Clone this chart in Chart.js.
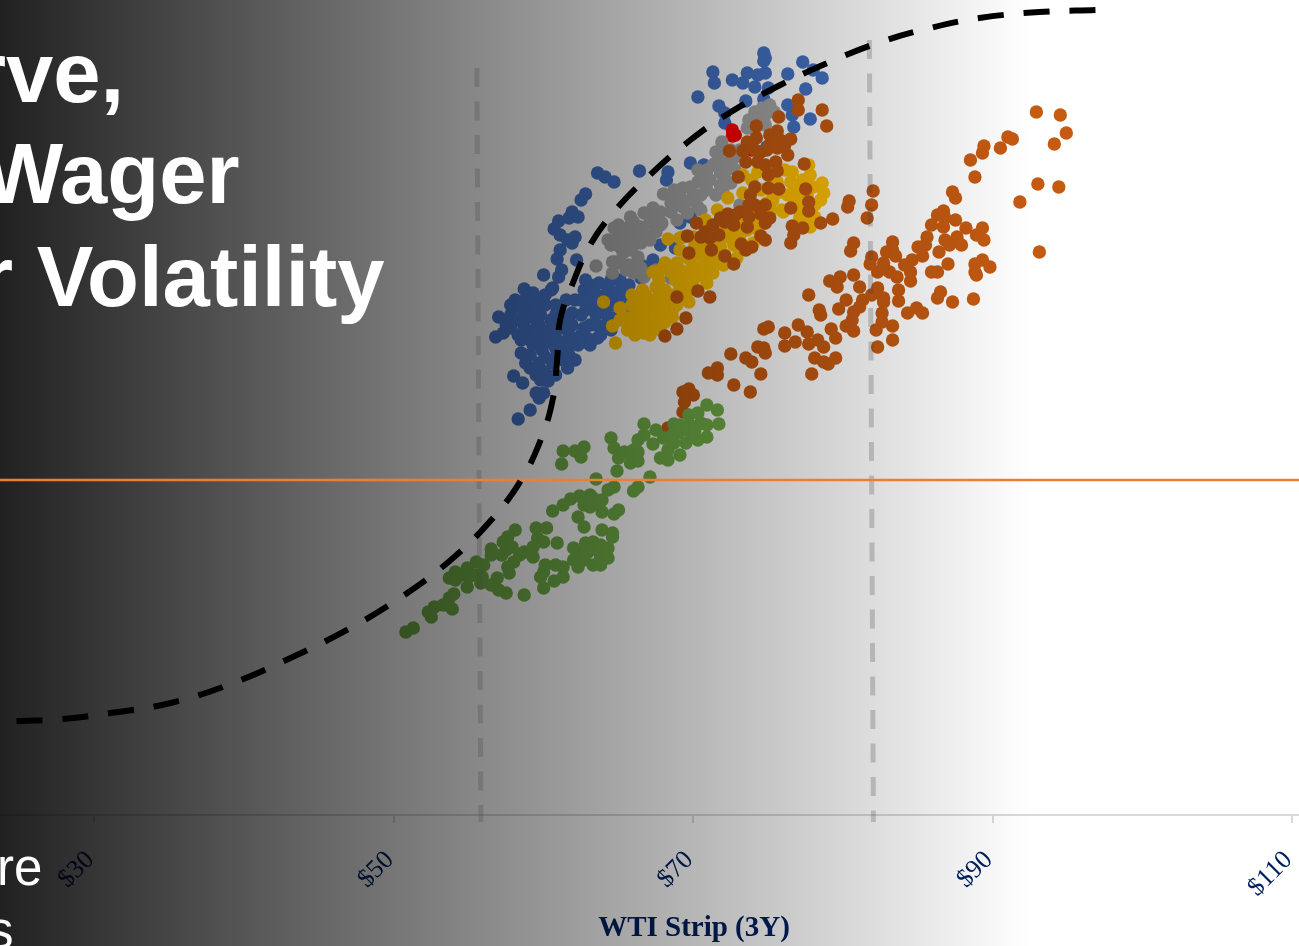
<!DOCTYPE html>
<html>
<head>
<meta charset="utf-8">
<title>WTI Strip</title>
<script src="https://cdn.jsdelivr.net/npm/chart.js@4"></script>
<style>
    html, body { margin: 0; padding: 0; background: #fff; overflow: hidden; width: 1299px; height: 946px; }
    #wrap { position: relative; width: 1299px; height: 946px; overflow: hidden; }
    canvas { position: absolute; left: 0; top: 0; }
    .head { position: absolute; color: #fff; white-space: pre; font-family: "Liberation Sans", Arial, sans-serif; }
    .big { font-size: 85px; font-weight: bold; line-height: 95px; }
    .small { font-size: 51px; line-height: 57px; }
</style>
</head>
<body>
<div id="wrap">
    <canvas id="chart" width="1388" height="946"></canvas>
    <div class="head big" style="left:-27px;top:25px">rve,</div>
    <div class="head big" style="left:-17px;top:126px">Wager</div>
    <div class="head big" style="left:-20px;top:229px">r Volatility</div>
    <div class="head small" style="left:-3px;top:839px">re</div>
    <div class="head small" style="left:-12px;top:902px">s</div>
</div>
<script>
// x = WTI strip ($), y = read on a hidden axis (no labels in the picture)
const tickValues = [30, 50, 70, 90, 110];
const axisTitle = 'WTI Strip (3Y)';

const bluePoints = [[74.7,76.2],[74.8,75.7],[74.7,75.4],[77.3,75.3],[71.3,74.3],[71.4,73.2],[72.6,73.5],[73.3,73.2],[73.6,74.2],[74.3,74.0],[74.8,74.2],[74.1,72.8],[75.0,72.7],[76.3,74.1],[78.0,74.5],[78.6,73.7],[77.5,72.6],[70.3,71.8],[73.5,71.4],[71.7,70.9],[72.1,70.2],[72.1,69.2],[74.7,71.6],[76.3,71.0],[76.6,70.0],[77.8,69.6],[76.7,68.8],[74.9,66.8],[69.8,65.2],[70.7,65.0],[66.4,64.4],[63.6,64.2],[64.1,63.8],[64.7,63.3],[68.2,63.5],[68.3,64.3],[62.8,62.1],[62.5,61.5],[61.9,60.3],[62.3,59.8],[61.7,59.7],[61.0,59.4],[60.7,58.6],[61.1,58.0],[61.6,57.5],[62.1,57.8],[61.9,57.2],[61.1,56.5],[60.9,55.6],[62.2,55.5],[61.2,54.5],[61.0,53.8],[60.0,54.0],[60.6,52.7],[60.1,52.0],[58.7,52.6],[59.3,52.2],[58.1,51.5],[57.8,51.0],[58.7,51.5],[59.6,51.2],[58.5,50.7],[57.0,49.8],[56.8,47.8],[57.3,48.2],[57.5,49.0],[58.3,49.5],[59.1,49.8],[58.3,48.0],[59.0,48.3],[58.7,48.8],[59.7,49.0],[60.5,49.5],[61.1,50.2],[60.3,48.3],[61.1,48.7],[61.9,49.0],[61.9,50.2],[62.7,52.5],[62.5,51.5],[63.1,51.5],[62.8,50.5],[63.5,50.8],[63.7,53.2],[64.3,52.8],[65.1,53.5],[65.7,53.0],[65.0,51.8],[64.1,50.2],[63.5,49.0],[62.7,48.7],[62.9,47.7],[63.6,47.7],[61.9,47.3],[61.1,47.3],[60.3,47.3],[59.3,47.0],[59.9,46.5],[60.8,46.7],[61.6,46.7],[58.5,46.2],[58.8,45.2],[59.7,45.2],[60.6,45.2],[61.3,45.5],[61.6,44.7],[59.5,44.0],[58.0,43.9],[58.6,43.2],[60.3,43.4],[60.0,42.2],[59.5,42.2],[59.7,41.7],[59.1,40.5],[58.3,39.6],[67.3,55.5],[68.8,56.7],[69.1,59.2],[69.8,59.8],[66.5,55.0],[67.8,57.0],
    [59.1,51.0],[60.1,51.0],[60.8,51.0],[61.5,51.5],[62.1,51.5],[57.8,50.0],[58.8,50.0],[59.8,50.0],[60.8,50.0],[62.5,50.0],[63.5,50.0],[57.8,48.7],[59.5,48.7],[60.5,48.7],[61.7,48.0],[62.5,48.0],[63.1,49.0],[64.1,49.0],[64.6,51.0],[64.1,52.0],[63.5,52.0],[63.1,53.0],[62.8,53.5],[59.1,47.5],[59.7,47.7],[60.8,47.7],[58.5,47.5],[59.1,46.0],[60.1,45.8],[60.9,46.0],[61.7,46.0],[62.3,47.0],[59.1,44.7],[60.1,44.3],[60.8,44.0],[59.8,43.5],[65.1,52.5],[65.7,52.0],[64.5,53.5],[66.5,53.7],[66.9,54.7],
    [63.8,48.0],[64.5,48.5],[64.6,49.7],[63.1,47.0],[62.1,45.5],[64.8,52.0],[65.7,51.0],[65.2,50.5],[63.8,51.2],[61.6,49.5],[60.5,52.5],[59.4,50.5]];

const redPoints = [[72.6,68.5],[72.8,68.0],[72.6,67.9],[73.9,66.5]];

const grayPoints = [[75.1,71.0],[74.6,70.7],[73.9,69.5],[73.6,68.7],[71.9,67.3],[71.5,66.3],[71.5,65.2],[71.3,65.0],[72.3,65.2],[72.7,65.7],[71.8,64.2],[70.9,63.8],[70.3,63.3],[69.3,62.7],[68.7,62.5],[68.0,62.1],[68.9,61.5],[70.0,62.0],[70.9,62.5],[72.5,63.2],[72.0,62.2],[70.3,60.8],[69.3,60.8],[68.5,61.2],[67.3,60.7],[66.7,60.2],[65.8,59.8],[64.7,58.7],[65.6,58.2],[66.5,58.8],[67.1,59.2],[67.9,59.2],[68.9,59.5],[69.6,60.2],[73.1,61.0],[65.6,57.2],[63.5,54.9],[64.6,54.2],[65.1,55.2],[66.0,54.2],[66.7,53.8],[68.5,53.7],[65.3,56.2],[66.3,55.8],[66.5,57.2],[67.1,57.5],[67.8,59.0],[65.7,58.8],[68.9,61.0],[74.5,70.0],[67.5,54.5],[65.7,50.7],
    [67.8,60.3],[68.5,60.3],[69.1,61.8],[69.8,62.8],[70.5,62.0],[71.1,63.5],[71.8,63.0],[72.1,64.3],[72.8,64.5],[65.1,57.5],[66.0,57.0],[66.8,58.0],[67.5,58.3],[64.8,55.3],[65.7,55.0],[66.5,54.7],[64.5,57.0],[65.0,59.0],[66.0,59.3],[67.0,60.0],[70.3,64.5],[70.9,64.5],[73.1,66.5],[72.5,66.5],[74.1,70.3],[75.4,70.3],[74.8,69.0],[74.1,68.5],
    [66.0,58.2],[65.0,58.0],[67.5,59.7],[68.6,62.0],[69.8,61.5],[70.8,63.2],[65.5,54.5],[66.3,55.0],[64.6,55.3],[65.1,56.8],[65.8,56.5],[64.3,57.5],[70.5,60.5],[71.5,62.0],[72.1,63.5],[71.7,65.5],[72.0,66.5],[74.8,70.0],[73.7,69.5]];

const goldPoints = [[64.0,51.3],[64.8,47.2],[64.6,48.9],[65.1,50.7],[65.9,52.0],[66.6,52.5],[67.5,52.8],[68.1,52.5],[65.6,48.5],[66.7,48.2],[66.0,49.8],[66.9,50.8],[67.9,50.2],[68.6,49.8],[68.9,51.0],[66.5,51.5],[67.3,51.5],[65.3,49.8],[66.9,49.2],[67.7,49.7],[69.7,51.3],[69.1,52.8],[70.0,53.5],[70.9,53.2],[67.3,54.3],[68.1,55.2],[68.9,55.2],[69.6,54.3],[70.5,54.8],[71.3,54.2],[72.0,55.0],[72.9,55.7],[73.3,56.8],[70.3,56.5],[70.9,55.7],[69.6,55.8],[71.8,56.8],[72.3,57.8],[71.6,58.5],[70.9,57.2],[71.6,60.5],[70.0,57.8],[69.1,57.7],[68.3,57.6],[74.0,57.2],[73.6,58.5],[75.1,60.8],[76.0,60.3],[78.1,59.8],[72.3,61.7],[73.3,62.2],[76.6,64.3],[77.7,65.0],[77.3,63.5],[78.6,63.2],[78.0,62.8],[78.7,62.2],[78.5,61.5],[76.3,62.0],[75.3,61.5],[75.6,63.3],[74.3,64.3],[73.3,64.0],[77.1,61.5],[77.7,59.8],[77.8,58.8],[75.9,60.5],[74.9,61.2],[74.0,59.8],[72.5,58.2],[69.3,57.8],[70.8,59.5],[70.5,57.5],[72.5,59.5],[73.1,59.0],[71.5,56.5],[69.1,54.5],[67.7,53.5],[68.5,51.5],[67.8,51.0],[66.5,50.0],[67.1,48.0],[65.9,51.0],[69.8,52.5],[70.5,54.0],[73.5,60.5],[74.5,62.5],[76.9,60.7],[72.7,57.0],
    [65.5,49.5],[66.1,49.0],[66.5,50.5],[67.1,50.3],[67.5,49.0],[68.1,49.3],[67.8,52.0],[68.5,52.0],[66.1,51.0],[66.8,52.0],[68.8,53.5],[69.5,53.5],[70.1,54.5],[70.8,54.5],[69.8,55.5],[70.5,56.0],[71.5,55.5],[72.1,56.0],[72.8,57.0],[72.5,59.0],[71.5,57.7],[72.1,58.7],[70.8,58.5],[70.1,57.0],[69.1,56.5],[68.5,54.3],[67.8,54.5],[73.1,58.0],[74.5,59.0],[75.1,60.0],[76.8,62.5],[76.5,63.3],[77.6,62.0],[77.8,64.0],[75.1,62.5],[73.9,63.5],
    [65.7,49.0],[65.1,49.5],[66.1,48.0],[67.8,48.5],[68.6,50.5],[69.4,52.0],[71.3,55.3],[74.1,58.7],[76.7,61.0],[75.8,62.3],[75.1,64.0],[76.1,64.5],[78.1,61.0],[77.1,59.8]];

const brownUpperPoints = [[77.0,71.5],[77.0,70.5],[78.6,70.5],[78.9,68.9],[75.7,69.8],[74.2,68.9],[75.6,68.4],[74.2,67.7],[76.5,67.6],[73.6,67.3],[75.1,67.0],[75.8,67.5],[72.4,66.4],[73.3,66.4],[76.3,66.0],[74.9,66.5],[75.6,66.7],[73.5,65.3],[74.3,65.3],[75.5,65.3],[75.6,64.4],[77.4,65.1],[73.0,63.8],[74.1,62.8],[75.0,62.7],[75.7,62.6],[77.5,62.6],[73.8,62.0],[74.8,61.0],[77.7,61.3],[77.7,60.4],[76.5,60.7],[73.7,61.0],[73.1,60.3],[72.3,60.1],[71.8,59.7],[71.3,59.0],[73.7,59.8],[74.5,60.1],[72.7,59.0],[73.6,58.8],[75.1,59.7],[74.8,59.2],[76.6,58.9],[77.3,58.7],[78.5,59.2],[79.3,59.6],[76.7,58.0],[76.5,57.2],[70.2,59.2],[69.6,57.9],[70.5,57.8],[71.1,57.7],[71.7,58.0],[71.2,56.5],[69.7,56.2],[72.1,55.9],[72.7,55.1],[73.2,57.1],[73.9,56.8],[73.5,56.5],[74.5,57.9],[74.8,57.5],[70.3,52.4],[71.1,51.8],[68.9,51.8],[69.5,49.7],[68.9,48.6],[68.1,47.9],
    [74.5,66.3],[74.8,65.0],[75.0,64.0],[76.1,67.0],[75.1,68.0],[74.1,66.5],[72.8,60.0],[73.5,60.3],[74.1,61.0],[70.8,58.3],[72.1,59.3]];

const brownLowerPoints = [[92.9,70.3],[94.5,70.0],[94.9,68.2],[94.1,67.1],[91.0,67.8],[91.3,67.6],[90.5,66.7],[89.4,66.9],[89.3,66.2],[88.5,65.5],[88.8,63.8],[93.0,63.1],[94.4,62.8],[91.8,61.3],[93.1,56.3],[87.3,62.3],[87.5,61.7],[86.7,60.4],[86.3,60.0],[86.8,59.7],[87.5,59.5],[85.9,59.0],[86.7,58.8],[88.2,58.7],[89.3,58.7],[88.9,58.0],[89.4,57.5],[87.6,57.8],[87.9,57.0],[86.8,57.5],[87.1,57.0],[86.4,56.3],[85.6,57.8],[85.5,57.0],[85.0,56.8],[85.3,55.9],[87.0,55.1],[89.3,55.5],[88.8,55.1],[89.8,54.8],[88.8,54.3],[88.9,54.0],[85.9,54.3],[86.3,54.3],[84.6,55.5],[84.1,55.0],[84.5,54.3],[84.5,53.4],[83.6,53.8],[83.1,54.3],[83.7,52.5],[83.3,56.5],[82.9,56.3],[83.5,55.9],[83.3,57.3],[82.7,55.2],[82.3,54.3],[81.8,55.1],[81.9,55.8],[82.0,62.4],[81.9,61.0],[81.6,59.7],[80.4,61.4],[80.3,60.8],[80.7,57.2],[80.5,56.4],[80.7,54.0],[79.8,53.8],[79.1,53.4],[79.6,52.8],[81.1,52.8],[82.3,52.7],[82.7,51.7],[82.7,51.3],[81.9,52.0],[81.3,51.5],[77.7,52.0],[83.7,51.4],[86.3,51.7],[86.5,52.3],[87.3,51.3],[88.7,51.6],[84.3,50.2],[84.9,50.7],[85.3,50.2],[82.6,50.2],[80.2,51.5],[79.7,50.6],[81.1,50.8],[80.7,50.3],[78.4,50.5],[78.5,50.0],[80.6,49.5],[80.2,48.9],[80.7,48.4],[82.6,49.3],[83.3,48.9],[82.2,48.5],[83.3,47.5],[82.3,46.8],[79.2,48.6],[79.5,47.7],[78.7,46.8],[78.3,47.5],[77.7,47.1],[77.6,48.3],[77.0,49.0],[76.8,47.3],[76.1,48.2],[76.1,46.9],[75.0,48.8],[74.7,48.6],[72.5,46.1],[74.3,46.8],[74.7,46.7],[74.8,46.2],[73.5,45.7],[73.9,45.3],[74.5,44.1],[78.1,45.7],[78.7,45.3],[79.0,45.1],[79.5,45.7],[77.9,44.1],[71.6,44.7],[71.0,44.2],[71.6,44.0],[72.7,43.0],[73.8,42.3],[69.7,42.6],[69.3,42.3],[70.0,42.0],[69.4,41.3],[69.3,40.3],[68.3,38.7]];

const greenPoints = [[70.9,41.0],[71.6,40.5],[71.7,39.1],[69.7,40.0],[70.3,40.2],[66.7,39.1],[67.5,38.5],[68.7,39.1],[64.5,37.7],[64.7,36.7],[66.3,37.5],[66.7,38.0],[67.3,37.1],[68.0,37.7],[69.0,38.2],[69.8,38.2],[70.5,39.2],[70.9,37.8],[70.3,37.5],[69.5,38.8],[68.7,37.2],[68.3,36.5],[67.8,35.7],[68.3,35.5],[69.1,36.0],[66.3,36.3],[65.4,36.3],[65.0,35.7],[65.8,35.2],[66.3,35.4],[66.0,35.8],[64.9,34.4],[63.5,33.6],[67.1,33.8],[66.3,32.8],[66.0,32.4],[64.7,32.8],[64.3,32.5],[61.3,36.4],[62.7,36.8],[62.1,36.4],[62.5,35.8],[61.2,35.1],[60.6,30.4],[61.3,31.0],[61.8,31.6],[62.4,31.9],[63.3,31.7],[63.9,31.5],[62.7,31.0],[63.1,30.8],[63.9,30.3],[65.0,30.5],[64.7,30.1],[62.3,29.8],[62.7,28.8],[63.9,28.5],[64.6,28.2],[64.6,27.8],[58.1,28.5],[57.6,27.8],[57.3,27.3],[59.5,28.7],[60.2,28.7],[59.6,27.7],[60.0,27.3],[60.9,27.2],[56.5,26.6],[56.5,26.0],[57.9,26.8],[58.7,26.3],[59.3,25.8],[59.3,26.8],[58.0,25.3],[57.6,24.8],[57.7,24.2],[56.9,23.7],[56.5,23.0],[57.0,22.5],[57.5,22.2],[58.7,22.0],[60.0,22.7],[60.0,24.3],[60.1,25.0],[60.8,25.0],[61.3,24.8],[61.3,23.8],[60.7,23.4],[59.8,23.8],[62.0,26.7],[62.0,25.5],[62.3,24.8],[62.8,27.2],[63.3,27.3],[62.9,26.2],[63.6,26.5],[63.3,25.0],[64.3,26.7],[64.3,25.7],[62.7,25.5],[63.8,25.8],[56.0,25.0],[55.5,25.3],[54.9,24.7],[54.1,24.3],[53.7,23.7],[54.1,23.5],[55.9,23.8],[55.8,23.2],[54.9,22.8],[54.0,22.1],[53.7,21.7],[53.3,21.0],[53.9,20.6],[52.7,20.8],[52.3,20.3],[52.5,19.8],[51.3,18.7],[50.8,18.3],
    [63.8,27.0],[63.1,26.5],[62.5,26.2],[63.8,25.0],[57.5,26.5],[57.2,26.0],[58.4,26.0],[55.5,24.0],[55.0,23.8],[54.5,24.0],[69.1,39.0],[69.8,39.0],[70.1,38.5],[70.9,39.0],[68.6,38.0],[69.5,37.2],[66.0,36.5],[63.1,32.0],[63.7,31.0]];

const curvePoints = [[24.8,9.4],[27.8,9.6],[31.1,10.2],[35.1,11.2],[39.1,13.1],[43.1,15.7],[47.1,18.7],[50.5,21.8],[53.8,25.5],[56.5,29.5],[58.5,33.5],[59.8,37.5],[60.6,41.5],[60.9,45.5],[61.1,49.5],[61.9,53.0],[63.1,57.0],[64.8,60.5],[67.1,64.0],[69.8,67.5],[72.5,70.3],[75.8,73.0],[79.1,75.3],[82.5,77.3],[85.8,78.7],[89.1,79.7],[93.1,80.3],[96.9,80.5]];

const hLinePoints = [[23.7,33.5],[116.38,33.5]];
const leftBandPoints = [[55.54,74.7],[55.81,-0.7]];
const rightBandPoints = [[81.75,77.5],[82.02,-0.7]];

const toXY = function(points) {
    return points.map(p => ({ x: p[0], y: p[1] }));
};

const dots = function(points, color) {
    return {
        data: toXY(points),
        backgroundColor: color,
        borderWidth: 0,
        pointRadius: 6.7,
        pointHoverRadius: 6.7
    };
};

const line = function(points, color, width, dash, tension) {
    return {
        data: toXY(points),
        showLine: true,
        borderColor: color,
        borderWidth: width,
        borderDash: dash,
        tension: tension,
        pointRadius: 0,
        clip: false
    };
};

// first dataset ends up on top, green is the last one under the shade
const SHADE_BELOW = 4;

const shadePlugin = {
    id: 'shade',
    afterDatasetDraw: function(chart, args) {
        if (args.index !== SHADE_BELOW) return;
        const ctx = chart.ctx;
        const grad = ctx.createLinearGradient(0, 0, 1030, 0);
        grad.addColorStop(0, 'rgba(0,0,0,0.87)');
        grad.addColorStop(1, 'rgba(0,0,0,0)');
        ctx.save();
        ctx.fillStyle = grad;
        ctx.fillRect(0, 0, chart.width, chart.height);
        ctx.restore();
    }
};

new Chart(document.getElementById('chart').getContext('2d'), {
    type: 'scatter',
    plugins: [shadePlugin],
    data: {
        datasets: [
            line(curvePoints, '#000000', 6, [26, 20], 0.4),
            line(hLinePoints, '#ED7D31', 2.5, [], 0),
            line(leftBandPoints, 'rgba(64,64,64,0.25)', 5, [19, 14.5], 0),
            line(rightBandPoints, 'rgba(64,64,64,0.25)', 5, [19, 14.5], 0),
            dots(greenPoints, '#70AD47'),
            dots(brownLowerPoints, '#C55A11'),
            dots(brownUpperPoints, '#C55A11'),
            dots(goldPoints, '#FFC000'),
            dots(grayPoints, '#A5A5A5'),
            dots(redPoints, '#FF0000'),
            dots(bluePoints, '#4472C4')
        ]
    },
    options: {
        responsive: false,
        animation: false,
        layout: { padding: 0, autoPadding: false },
        plugins: { legend: { display: false }, tooltip: { enabled: false } },
        scales: {
            x: {
                type: 'linear',
                min: 23.7,
                max: 116.38,
                afterBuildTicks: function(axis) {
                    axis.ticks = tickValues.map(v => ({ value: v }));
                },
                afterFit: function(axis) {
                    axis.height = 131;
                    axis.paddingLeft = 0;
                    axis.paddingRight = 0;
                },
                grid: { drawOnChartArea: false, drawTicks: true, tickLength: 8, color: '#D9D9D9', lineWidth: 2 },
                border: { display: true, color: '#D9D9D9', width: 2 },
                ticks: {
                    minRotation: 45,
                    maxRotation: 45,
                    padding: 22,
                    labelOffset: -4,
                    color: '#002060',
                    font: { family: '"Liberation Serif", serif', size: 26 },
                    callback: function(value) { return '$' + value; }
                },
                title: {
                    display: true,
                    text: axisTitle,
                    color: '#002060',
                    font: { family: '"Liberation Serif", serif', size: 29, weight: 'bold' },
                    padding: { top: 0, bottom: 0 }
                }
            },
            y: { display: false, min: 0, max: 81.5 }
        }
    }
});
</script>
</body>
</html>
